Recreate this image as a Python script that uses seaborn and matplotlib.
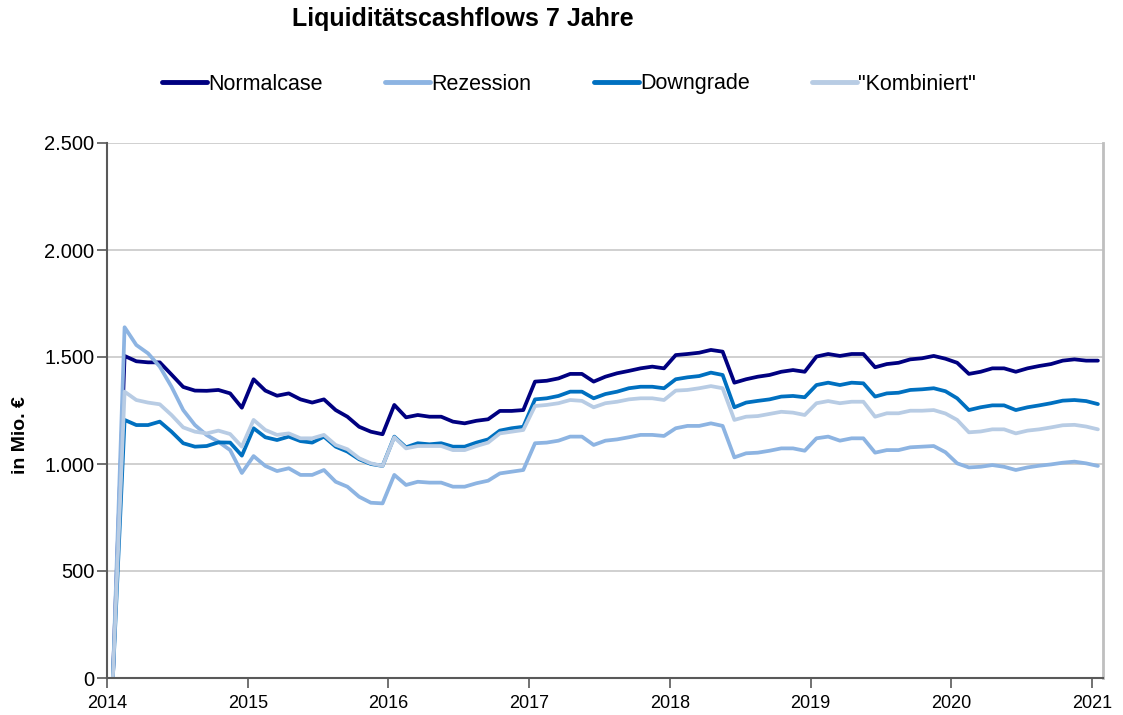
import numpy as np
import pandas as pd
import matplotlib
matplotlib.use("Agg")
import matplotlib.pyplot as plt
import seaborn as sns
from matplotlib.ticker import FuncFormatter, MultipleLocator

# monthly values (mid-month), Jan 2014 .. Jan 2021, in Mio. EUR
normalcase = [
    0, 1505, 1480, 1475, 1475, 1418, 1360, 1343, 1342, 1346, 1330, 1263,
    1396, 1343, 1319, 1330, 1302, 1287, 1302, 1252, 1221, 1174, 1151, 1139,
    1276, 1218, 1229, 1221, 1221, 1198, 1190, 1202, 1209, 1248, 1248, 1252,
    1385, 1389, 1400, 1421, 1421, 1385, 1408, 1424, 1435, 1447, 1455, 1447,
    1509, 1514, 1520, 1533, 1525, 1380, 1396, 1408, 1416, 1431, 1439, 1431,
    1502, 1514, 1505, 1514, 1514, 1452, 1467, 1473, 1489, 1494, 1505, 1492,
    1473, 1421, 1431, 1447, 1447, 1431, 1447, 1458, 1467, 1483, 1489, 1483,
    1483,
]
rezession = [
    0, 1639, 1556, 1517, 1455, 1361, 1252, 1182, 1135, 1104, 1065, 958,
    1037, 991, 967, 980, 949, 949, 972, 917, 894, 847, 819, 816,
    949, 902, 917, 913, 913, 894, 894, 910, 922, 956, 964, 972,
    1097, 1100, 1109, 1128, 1128, 1089, 1109, 1115, 1125, 1136, 1136, 1131,
    1167, 1178, 1178, 1190, 1178, 1031, 1050, 1053, 1062, 1073, 1073, 1062,
    1120, 1128, 1109, 1120, 1120, 1053, 1065, 1065, 1078, 1081, 1084, 1055,
    1003, 984, 987, 995, 987, 972, 984, 992, 998, 1006, 1011, 1003,
    991,
]
downgrade = [
    0, 1206, 1182, 1182, 1198, 1151, 1097, 1081, 1084, 1101, 1100, 1039,
    1167, 1125, 1112, 1128, 1107, 1100, 1128, 1081, 1058, 1022, 1000, 991,
    1128, 1078, 1097, 1092, 1097, 1081, 1081, 1100, 1115, 1156, 1167, 1174,
    1302, 1307, 1318, 1338, 1338, 1307, 1327, 1338, 1354, 1361, 1361, 1354,
    1396, 1405, 1411, 1427, 1416, 1265, 1287, 1295, 1302, 1315, 1318, 1312,
    1369, 1380, 1369, 1380, 1377, 1315, 1330, 1333, 1346, 1349, 1354, 1340,
    1307, 1252, 1265, 1274, 1274, 1252, 1265, 1274, 1284, 1296, 1299, 1294,
    1280,
]
kombiniert = [
    0, 1338, 1299, 1287, 1279, 1229, 1171, 1151, 1143, 1156, 1140, 1081,
    1206, 1159, 1136, 1143, 1120, 1120, 1136, 1089, 1069, 1027, 1003, 991,
    1125, 1073, 1084, 1084, 1084, 1065, 1065, 1084, 1100, 1143, 1151, 1159,
    1271, 1276, 1284, 1299, 1295, 1265, 1284, 1291, 1302, 1307, 1307, 1299,
    1343, 1346, 1354, 1364, 1354, 1206, 1221, 1224, 1234, 1244, 1240, 1229,
    1284, 1294, 1284, 1291, 1291, 1221, 1237, 1237, 1249, 1249, 1252, 1236,
    1206, 1148, 1152, 1162, 1162, 1143, 1156, 1162, 1171, 1181, 1183, 1175,
    1162,
]

series_names = ["Normalcase", "Rezession", "Downgrade", '"Kombiniert"']
series_colors = ["#000080", "#8DB4E2", "#0070C0", "#B8CCE4"]
year_ticks = list(range(2014, 2022))

# decimal year at middle of each month
months = pd.date_range("2014-01-01", periods=len(normalcase), freq="MS")
x_years = months.year + (months.month - 0.5) / 12.0

df = pd.concat(
    [
        pd.DataFrame({"Jahr": x_years, "Wert": vals, "Szenario": name})
        for name, vals in zip(series_names, [normalcase, rezession, downgrade, kombiniert])
    ],
    ignore_index=True,
)

sns.set_style("white")
plt.rcParams["font.family"] = ["Liberation Sans", "DejaVu Sans"]
plt.rcParams["text.color"] = "black"
plt.rcParams["xtick.color"] = "black"
plt.rcParams["ytick.color"] = "black"
plt.rcParams["axes.labelcolor"] = "black"

fig = plt.figure(figsize=(11.23, 7.15), dpi=100)
ax = fig.add_axes([107 / 1123, 1 - 678 / 715, 996 / 1123, 535 / 715])

sns.lineplot(
    data=df,
    x="Jahr",
    y="Wert",
    hue="Szenario",
    palette=dict(zip(series_names, series_colors)),
    linewidth=2.7,
    ax=ax,
    legend=False,
)

ax.set_xlim(2014, 2021.078)
ax.set_ylim(0, 2500)
ax.set_xticks(year_ticks)
ax.set_xticklabels([str(y) for y in year_ticks], fontsize=13)
ax.yaxis.set_major_locator(MultipleLocator(500))
ax.yaxis.set_major_formatter(FuncFormatter(lambda v, p: f"{v:,.0f}".replace(",", ".")))
ax.tick_params(axis="y", labelsize=14.5, length=7, width=1.2, color="#595959", direction="out", left=True, pad=2)
ax.tick_params(axis="x", length=7, width=1.2, color="#595959", direction="out", bottom=True, pad=5)

ax.grid(axis="y", color="#C8C8C8", linewidth=1.2, zorder=0)
ax.set_axisbelow(True)
ax.spines["top"].set_visible(False)
ax.spines["left"].set_color("#595959")
ax.spines["left"].set_linewidth(1.5)
ax.spines["bottom"].set_color("#595959")
ax.spines["bottom"].set_linewidth(1.5)
ax.spines["right"].set_color("#BFBFBF")
ax.spines["right"].set_linewidth(2)

ax.set_xlabel("")
ax.set_ylabel("in Mio. €", fontsize=14, fontweight="bold")
ax.yaxis.set_label_coords(-0.078, 0.455)

fig.text(463 / 1123, 1 - 19 / 715, "Liquiditätscashflows 7 Jahre",
         ha="center", va="center", fontsize=18, fontweight="bold")

handles = [plt.Line2D([], [], color=c, linewidth=3.5) for c in series_colors]
fig.legend(
    handles, series_names,
    loc="center", bbox_to_anchor=(569 / 1123, 1 - 84 / 715),
    ncol=4, frameon=False, fontsize=15.5,
    handlelength=2.1, handletextpad=0.05, columnspacing=2.9,
)

fig.savefig("out.png", dpi=100)
